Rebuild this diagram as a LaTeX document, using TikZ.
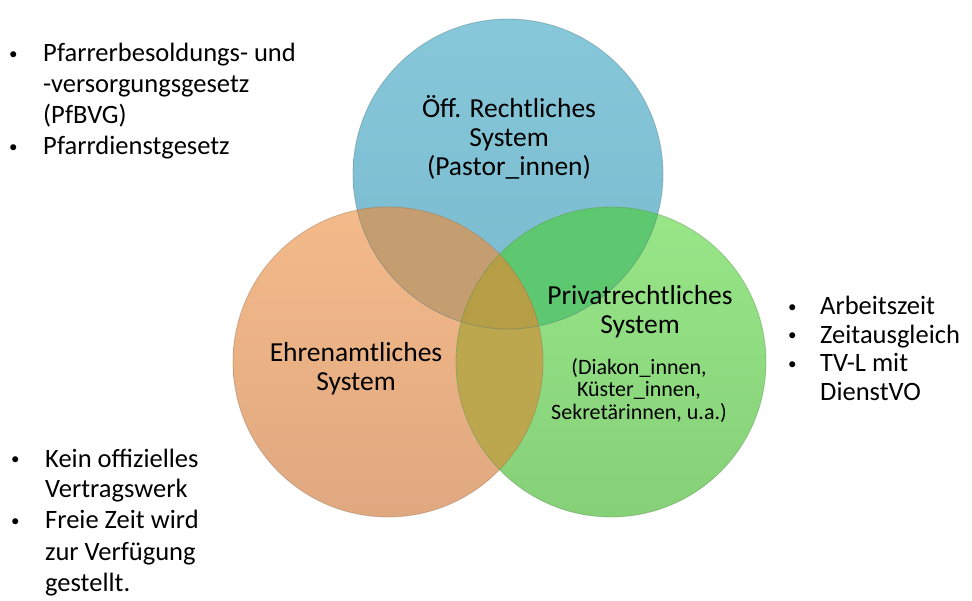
\documentclass[tikz,border=0pt]{standalone}
\usepackage{fontspec}
\setmainfont{Carlito}
\usepackage{tikz}

\definecolor{pubblue}{RGB}{134,199,218}
\definecolor{pubblue2}{RGB}{122,186,206}
\definecolor{volorange}{RGB}{244,186,138}
\definecolor{volorange2}{RGB}{224,168,128}
\definecolor{privgreen}{RGB}{152,230,136}
\definecolor{privgreen2}{RGB}{134,208,120}
\definecolor{pubvol}{RGB}{196,158,112}
\definecolor{pubpriv}{RGB}{94,200,112}
\definecolor{volpriv}{RGB}{188,166,78}
\definecolor{allsys}{RGB}{182,158,70}

\newcommand{\circr}{155pt}
% smaller list bullet
\newcommand{\lbul}{{\fontsize{17}{17}\selectfont\raisebox{2.5pt}{\textbullet}}}

\tikzset{
  systitle/.style={align=center, inner sep=0pt, font=\fontsize{27.5}{29}\selectfont},
  subtext/.style={align=center, inner sep=0pt, font=\fontsize{22}{22.5}\selectfont},
  bulletlist/.style={anchor=base west, inner sep=0pt, font=\fontsize{26.5}{31}\selectfont},
  rim/.style={line width=0.8pt, draw opacity=0.4},
}

\begin{document}
\begin{tikzpicture}[x=1pt, y=-1pt]
        \fill[white] (0,0) rectangle (972,601);
        \useasboundingbox (0,0) rectangle (972,601);

        % centres of the three systems
        \coordinate (pub) at (508,174);
        \coordinate (vol) at (388,362);
        \coordinate (priv) at (611,362);

        \shade[top color=pubblue, bottom color=pubblue2] (pub) circle (\circr);
        \shade[top color=volorange, bottom color=volorange2] (vol) circle (\circr);
        \shade[top color=privgreen, bottom color=privgreen2] (priv) circle (\circr);

        % overlaps
        \begin{scope}
            \clip (pub) circle (\circr);
            \fill[pubvol] (vol) circle (\circr);
            \fill[pubpriv] (priv) circle (\circr);
        \end{scope}
        \begin{scope}
            \clip (vol) circle (\circr);
            \fill[volpriv] (priv) circle (\circr);
            \clip (pub) circle (\circr);
            \fill[allsys] (priv) circle (\circr);
        \end{scope}

        \draw[rim, pubblue!60!black] (pub) circle (\circr);
        \draw[rim, volorange!60!black] (vol) circle (\circr);
        \draw[rim, privgreen!60!black] (priv) circle (\circr);

        \node[systitle] (pubtext) at (509,137.5) {Öff. Rechtliches\\System\\(Pastor\_innen)};
        \node[systitle] (voltext) at (356,369) {Ehrenamtliches\\System};
        \node[systitle] (privtext) at (640,311.5) {Privatrechtliches\\System};
        \node[subtext] (privsub) at (639,390) {(Diakon\_innen,\\Küster\_innen,\\Sekretärinnen, u.a.)};

        % bullet lists
        \node[bulletlist] (publaw) at (9,62) {\begin{tabular}[t]{@{}p{34pt}@{}l@{}}
            \lbul & Pfarrerbesoldungs- und\\
                  & -versorgungsgesetz\\
                  & (PfBVG)\\
            \lbul & Pfarrdienstgesetz
        \end{tabular}};
        \node[bulletlist, font=\fontsize{26.5}{28.5}\selectfont] (privlaw) at (788,315) {\begin{tabular}[t]{@{}p{32pt}@{}l@{}}
            \lbul & Arbeitszeit\\
            \lbul & Zeitausgleich\\
            \lbul & TV-L mit\\
                  & DienstVO
        \end{tabular}};
        \node[bulletlist] (vollaw) at (11,467) {\begin{tabular}[t]{@{}p{34pt}@{}l@{}}
            \lbul & Kein offizielles\\
                  & Vertragswerk\\
            \lbul & Freie Zeit wird\\
                  & zur Verfügung\\
                  & gestellt.
        \end{tabular}};
\end{tikzpicture}
\end{document}
